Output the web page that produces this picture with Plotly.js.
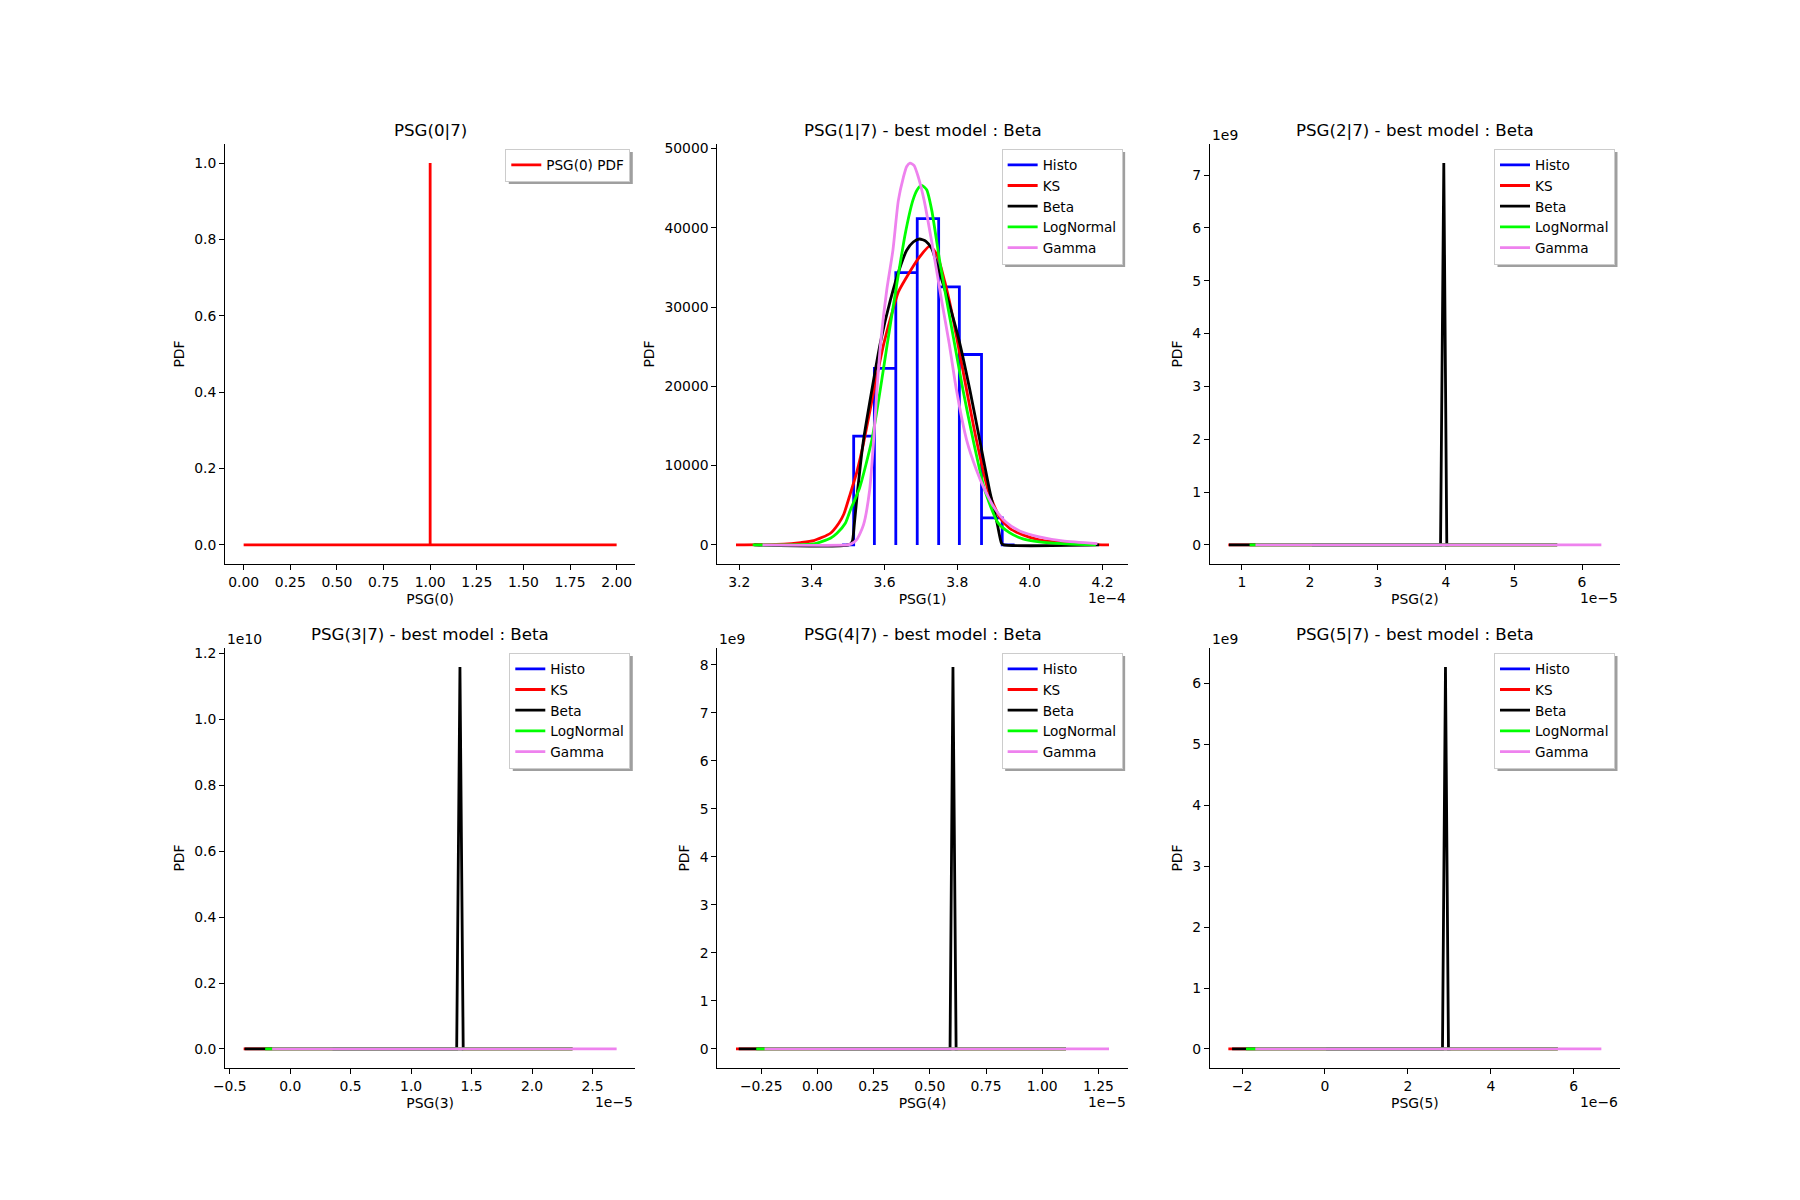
<!DOCTYPE html>
<html>
<head>
<meta charset="utf-8">
<script src="https://cdn.plot.ly/plotly-3.0.1.min.js"></script>
<style>
  html, body { margin: 0; padding: 0; background: #ffffff; }
  #chart { width: 1800px; height: 1200px; }
</style>
</head>
<body>
<div id="chart"></div>
<script>
const FONT = 'DejaVu Sans, Verdana, sans-serif';

// ---------- Series names / colours ----------
const seriesNames = ['Histo', 'KS', 'Beta', 'LogNormal', 'Gamma'];
const seriesColors = ['#0000ff', '#ff0000', '#000000', '#00ff00', '#ee82ee'];

// ---------- PSG(0|7) ----------
const psg0Title = 'PSG(0|7)';
const psg0X = [0, 1, 1, 1, 2];
const psg0Pdf = [0, 0, 1, 0, 0];
const psg0XTicks = [0, 0.25, 0.5, 0.75, 1, 1.25, 1.5, 1.75, 2];
const psg0XTickText = ['0.00', '0.25', '0.50', '0.75', '1.00', '1.25', '1.50', '1.75', '2.00'];
const psg0YTicks = [0, 0.2, 0.4, 0.6, 0.8, 1.0];
const psg0YTickText = ['0.0', '0.2', '0.4', '0.6', '0.8', '1.0'];

// ---------- PSG(1|7)  (x in units of 1e-4) ----------
const psg1XScale = 1e-4;
const psg1HistoEdges = [3.515, 3.572, 3.631, 3.690, 3.749, 3.806, 3.867, 3.924];
const psg1HistoHeights = [13730, 22250, 34340, 41140, 32540, 24010, 3400];
const psg1HistoLimits = [3.483, 3.958];
const psg1KsX = [3.191, 3.323, 3.369, 3.405, 3.451, 3.474, 3.488, 3.506, 3.524, 3.542, 3.570, 3.597, 3.620, 3.638, 3.661, 3.693, 3.725, 3.745, 3.766, 3.784, 3.800, 3.826, 3.853, 3.885, 3.917, 3.944, 3.981, 4.026, 4.118, 4.218];
const psg1KsPdf = [0, 80, 290, 550, 1470, 2730, 3900, 6510, 9240, 12800, 19310, 25190, 29180, 31900, 33790, 36100, 37700, 36520, 33160, 29600, 25820, 19520, 13220, 6930, 3480, 2100, 1260, 630, 170, 0];
const psg1BetaX = [3.241, 3.501, 3.511, 3.517, 3.526, 3.542, 3.565, 3.588, 3.616, 3.643, 3.661, 3.679, 3.696, 3.714, 3.730, 3.745, 3.775, 3.805, 3.835, 3.862, 3.889, 3.910, 3.922, 3.928, 4.191];
const psg1BetaPdf = [0, 0, 420, 2730, 6930, 13220, 19520, 25400, 30860, 35050, 37150, 38200, 38580, 38290, 37360, 35260, 30860, 25820, 19520, 13220, 6930, 2730, 210, 0, 0];
const psg1LogNormalX = [3.237, 3.369, 3.405, 3.451, 3.469, 3.492, 3.506, 3.531, 3.565, 3.588, 3.607, 3.634, 3.657, 3.678, 3.690, 3.702, 3.716, 3.730, 3.753, 3.771, 3.791, 3.816, 3.844, 3.876, 3.912, 3.944, 3.981, 4.026, 4.100, 4.182];
const psg1LogNormalPdf = [0, 40, 130, 840, 1470, 2730, 4410, 7140, 13220, 19520, 25190, 32950, 39250, 43450, 44790, 45340, 44790, 42190, 35470, 30860, 25820, 19520, 13220, 6930, 2810, 1550, 760, 380, 130, 0];
const psg1GammaX = [3.264, 3.497, 3.508, 3.524, 3.542, 3.559, 3.570, 3.579, 3.590, 3.606, 3.623, 3.638, 3.652, 3.661, 3.670, 3.681, 3.693, 3.709, 3.734, 3.757, 3.778, 3.798, 3.826, 3.853, 3.876, 3.903, 3.935, 3.972, 4.026, 4.090, 4.186];
const psg1GammaPdf = [0, 0, 130, 710, 2520, 6930, 13220, 19520, 25820, 32110, 37150, 43450, 46390, 47730, 48150, 47860, 46390, 43450, 37150, 30860, 25400, 19520, 13220, 9450, 6930, 4620, 2850, 1760, 1010, 500, 170];
const psg1XTicks = [3.2, 3.4, 3.6, 3.8, 4.0, 4.2];
const psg1XTickText = ['3.2', '3.4', '3.6', '3.8', '4.0', '4.2'];
const psg1YTicks = [0, 10000, 20000, 30000, 40000, 50000];
const psg1YTickText = ['0', '10000', '20000', '30000', '40000', '50000'];

// ---------- PSG(2|7)  (x in units of 1e-5) ----------
const psg2XScale = 1e-5;
const psg2HistoX = [2.029, 4.041];
const psg2HistoPdf = [0, 0];
const psg2KsX = [0.801, 5.635];
const psg2KsPdf = [0, 0];
const psg2BetaX = [0.810, 3.920, 3.968, 4.012, 5.635];
const psg2BetaPdf = [0, 0, 7.227e9, 0, 0];
const psg2LogNormalX = [1.113, 5.635];
const psg2LogNormalPdf = [0, 0];
const psg2GammaX = [1.200, 6.284];
const psg2GammaPdf = [0, 0];
const psg2XTicks = [1, 2, 3, 4, 5, 6];
const psg2XTickText = ['1', '2', '3', '4', '5', '6'];
const psg2YTicks = [0, 1, 2, 3, 4, 5, 6, 7];
const psg2YTickText = ['0', '1', '2', '3', '4', '5', '6', '7'];

// ---------- PSG(3|7)  (x in units of 1e-5) ----------
const psg3XScale = 1e-5;
const psg3HistoX = [0.350, 1.431];
const psg3HistoPdf = [0, 0];
const psg3KsX = [-0.385, 2.335];
const psg3KsPdf = [0, 0];
const psg3BetaX = [-0.377, 1.377, 1.404, 1.431, 2.335];
const psg3BetaPdf = [0, 0, 1.159e10, 0, 0];
const psg3LogNormalX = [-0.207, 2.335];
const psg3LogNormalPdf = [0, 0];
const psg3GammaX = [-0.149, 2.700];
const psg3GammaPdf = [0, 0];
const psg3XTicks = [-0.5, 0, 0.5, 1.0, 1.5, 2.0, 2.5];
const psg3XTickText = ['\u22120.5', '0.0', '0.5', '1.0', '1.5', '2.0', '2.5'];
const psg3YTicks = [0, 0.2, 0.4, 0.6, 0.8, 1.0, 1.2];
const psg3YTickText = ['0.0', '0.2', '0.4', '0.6', '0.8', '1.0', '1.2'];

// ---------- PSG(4|7)  (x in units of 1e-5) ----------
const psg4XScale = 1e-5;
const psg4HistoX = [0.056, 0.624];
const psg4HistoPdf = [0, 0];
const psg4KsX = [-0.362, 1.106];
const psg4KsPdf = [0, 0];
const psg4BetaX = [-0.350, 0.590, 0.603, 0.617, 1.106];
const psg4BetaPdf = [0, 0, 7.95e9, 0, 0];
const psg4LogNormalX = [-0.272, 1.106];
const psg4LogNormalPdf = [0, 0];
const psg4GammaX = [-0.235, 1.297];
const psg4GammaPdf = [0, 0];
const psg4XTicks = [-0.25, 0, 0.25, 0.5, 0.75, 1.0, 1.25];
const psg4XTickText = ['\u22120.25', '0.00', '0.25', '0.50', '0.75', '1.00', '1.25'];
const psg4YTicks = [0, 1, 2, 3, 4, 5, 6, 7, 8];
const psg4YTickText = ['0', '1', '2', '3', '4', '5', '6', '7', '8'];

// ---------- PSG(5|7)  (x in units of 1e-6) ----------
const psg5XScale = 1e-6;
const psg5HistoX = [0.027, 3.026];
const psg5HistoPdf = [0, 0];
const psg5KsX = [-2.330, 5.615];
const psg5KsPdf = [0, 0];
const psg5BetaX = [-2.240, 2.834, 2.906, 2.978, 5.615];
const psg5BetaPdf = [0, 0, 6.27e9, 0, 0];
const psg5LogNormalX = [-1.904, 5.615];
const psg5LogNormalPdf = [0, 0];
const psg5GammaX = [-1.680, 6.665];
const psg5GammaPdf = [0, 0];
const psg5XTicks = [-2, 0, 2, 4, 6];
const psg5XTickText = ['\u22122', '0', '2', '4', '6'];
const psg5YTicks = [0, 1, 2, 3, 4, 5, 6];
const psg5YTickText = ['0', '1', '2', '3', '4', '5', '6'];

// ---------- build helpers ----------
function histoPath(edges, heights, limits) {
  const xs = [limits[0]], ys = [0];
  for (let i = 0; i < heights.length; i++) {
    xs.push(edges[i], edges[i], edges[i + 1], edges[i + 1]);
    ys.push(0, heights[i], heights[i], 0);
  }
  xs.push(limits[1]); ys.push(0);
  return { x: xs, y: ys };
}
const psg1Histo = histoPath(psg1HistoEdges, psg1HistoHeights, psg1HistoLimits);

function fiveSeries(h, ks, beta, ln, gm, smooth) {
  const xs = [h, ks, beta, ln, gm];
  return xs.map((s, i) => ({ name: seriesNames[i], color: seriesColors[i], x: s[0], y: s[1], spline: smooth && i > 0 }));
}

const panels = [
  { title: psg0Title, xLabel: 'PSG(0)', xScale: 1, yScale: 1,
    xTicks: psg0XTicks, xTickText: psg0XTickText, yTicks: psg0YTicks, yTickText: psg0YTickText,
    xOffset: '', yOffset: '',
    series: [{ name: 'PSG(0) PDF', color: '#ff0000', x: psg0X, y: psg0Pdf, spline: false }] },
  { title: 'PSG(1|7) - best model : Beta', xLabel: 'PSG(1)', xScale: psg1XScale, yScale: 1,
    xTicks: psg1XTicks, xTickText: psg1XTickText, yTicks: psg1YTicks, yTickText: psg1YTickText,
    xOffset: '1e\u22124', yOffset: '',
    series: fiveSeries([psg1Histo.x, psg1Histo.y], [psg1KsX, psg1KsPdf], [psg1BetaX, psg1BetaPdf],
                       [psg1LogNormalX, psg1LogNormalPdf], [psg1GammaX, psg1GammaPdf], true) },
  { title: 'PSG(2|7) - best model : Beta', xLabel: 'PSG(2)', xScale: psg2XScale, yScale: 1e9,
    xTicks: psg2XTicks, xTickText: psg2XTickText, yTicks: psg2YTicks, yTickText: psg2YTickText,
    xOffset: '1e\u22125', yOffset: '1e9',
    series: fiveSeries([psg2HistoX, psg2HistoPdf], [psg2KsX, psg2KsPdf], [psg2BetaX, psg2BetaPdf],
                       [psg2LogNormalX, psg2LogNormalPdf], [psg2GammaX, psg2GammaPdf], false) },
  { title: 'PSG(3|7) - best model : Beta', xLabel: 'PSG(3)', xScale: psg3XScale, yScale: 1e10,
    xTicks: psg3XTicks, xTickText: psg3XTickText, yTicks: psg3YTicks, yTickText: psg3YTickText,
    xOffset: '1e\u22125', yOffset: '1e10',
    series: fiveSeries([psg3HistoX, psg3HistoPdf], [psg3KsX, psg3KsPdf], [psg3BetaX, psg3BetaPdf],
                       [psg3LogNormalX, psg3LogNormalPdf], [psg3GammaX, psg3GammaPdf], false) },
  { title: 'PSG(4|7) - best model : Beta', xLabel: 'PSG(4)', xScale: psg4XScale, yScale: 1e9,
    xTicks: psg4XTicks, xTickText: psg4XTickText, yTicks: psg4YTicks, yTickText: psg4YTickText,
    xOffset: '1e\u22125', yOffset: '1e9',
    series: fiveSeries([psg4HistoX, psg4HistoPdf], [psg4KsX, psg4KsPdf], [psg4BetaX, psg4BetaPdf],
                       [psg4LogNormalX, psg4LogNormalPdf], [psg4GammaX, psg4GammaPdf], false) },
  { title: 'PSG(5|7) - best model : Beta', xLabel: 'PSG(5)', xScale: psg5XScale, yScale: 1e9,
    xTicks: psg5XTicks, xTickText: psg5XTickText, yTicks: psg5YTicks, yTickText: psg5YTickText,
    xOffset: '1e\u22126', yOffset: '1e9',
    series: fiveSeries([psg5HistoX, psg5HistoPdf], [psg5KsX, psg5KsPdf], [psg5BetaX, psg5BetaPdf],
                       [psg5LogNormalX, psg5LogNormalPdf], [psg5GammaX, psg5GammaPdf], false) }
];

// ---------- layout geometry (matplotlib default subplot grid) ----------
const W = 1800, H = 1200;
const colDomains = [[0.125, 0.352941], [0.398529, 0.626471], [0.672059, 0.9]];
const rowDomains = [[0.53, 0.88], [0.11, 0.46]];

const axisCommon = {
  showline: true, linecolor: '#000000', linewidth: 1.1,
  ticks: 'outside', ticklen: 4.9, tickwidth: 1.1, tickcolor: '#000000',
  showgrid: false, zeroline: false, automargin: false, fixedrange: true,
  tickfont: { family: FONT, size: 13.9, color: '#000000' },
  tickmode: 'array'
};

const traces = [];
const layout = {
  width: W, height: H,
  margin: { l: 0, r: 0, t: 0, b: 0, pad: 0 },
  paper_bgcolor: '#ffffff', plot_bgcolor: '#ffffff',
  showlegend: true,
  font: { family: FONT, size: 13.9, color: '#000000' },
  annotations: []
};
const legendIds = [];

panels.forEach((p, i) => {
  const col = i % 3, row = Math.floor(i / 3);
  const sfx = i === 0 ? '' : String(i + 1);
  const xId = 'x' + sfx, yId = 'y' + sfx;
  const legendId = 'legend' + sfx;
  legendIds.push(legendId);

  let xmin = Infinity, xmax = -Infinity, ymin = Infinity, ymax = -Infinity;
  p.series.forEach(s => {
    const xs = s.x.map(v => v * p.xScale);
    xs.forEach(v => { xmin = Math.min(xmin, v); xmax = Math.max(xmax, v); });
    s.y.forEach(v => { ymin = Math.min(ymin, v); ymax = Math.max(ymax, v); });
    traces.push({
      type: 'scatter', mode: 'lines', name: s.name,
      x: xs, y: s.y, xaxis: xId, yaxis: yId, legend: legendId,
      line: { color: s.color, width: 2.8, shape: s.spline ? 'spline' : 'linear', smoothing: 0.6 },
      hoverinfo: 'skip'
    });
  });
  const xpad = 0.05 * (xmax - xmin), ypad = 0.05 * (ymax - ymin);

  layout['xaxis' + sfx] = Object.assign({}, axisCommon, {
    domain: colDomains[col], anchor: yId,
    range: [xmin - xpad, xmax + xpad],
    tickvals: p.xTicks.map(v => v * p.xScale), ticktext: p.xTickText,
    title: { text: p.xLabel, font: { family: FONT, size: 13.9, color: '#000000' }, standoff: 5 }
  });
  layout['yaxis' + sfx] = Object.assign({}, axisCommon, {
    domain: rowDomains[row], anchor: xId,
    range: [ymin - ypad, ymax + ypad],
    tickvals: p.yTicks.map(v => v * p.yScale), ticktext: p.yTickText,
    title: { text: 'PDF', font: { family: FONT, size: 13.9, color: '#000000' }, standoff: 6 }
  });

  const axRightPx = colDomains[col][1] * W;
  const axTopPx = (1 - rowDomains[row][1]) * H;
  layout[legendId] = {
    x: (axRightPx - 5) / W, y: 1 - (axTopPx + 4.5) / H,
    xanchor: 'right', yanchor: 'top',
    bgcolor: '#ffffff', bordercolor: '#cccccc', borderwidth: 1,
    font: { family: FONT, size: 13.6, color: '#000000' },
    itemwidth: 30, tracegroupgap: 0, traceorder: 'normal'
  };

  layout.annotations.push({
    xref: xId + ' domain', yref: yId + ' domain', x: 0.5, y: 1,
    xanchor: 'center', yanchor: 'middle', yshift: 13.5, showarrow: false,
    text: p.title, font: { family: FONT, size: 16.67, color: '#000000' }
  });
  if (p.yOffset) {
    layout.annotations.push({
      xref: xId + ' domain', yref: yId + ' domain', x: 0, y: 1,
      xanchor: 'left', yanchor: 'middle', yshift: 9, showarrow: false,
      text: p.yOffset, font: { family: FONT, size: 13.9, color: '#000000' }
    });
  }
  if (p.xOffset) {
    layout.annotations.push({
      xref: xId + ' domain', yref: yId + ' domain', x: 1, y: 0,
      xanchor: 'right', yanchor: 'middle', yshift: -34, showarrow: false,
      text: p.xOffset, font: { family: FONT, size: 13.9, color: '#000000' }
    });
  }
});

const gd = document.getElementById('chart');
Plotly.newPlot(gd, traces, layout, { displayModeBar: false, responsive: false }).then(() => {
  // matplotlib-style legend shadows, placed from the rendered legend boxes
  const root = gd.getBoundingClientRect();
  const shapes = [];
  legendIds.forEach(id => {
    const bg = gd.querySelector('.infolayer g.' + id + ' rect.bg');
    if (!bg) return;
    const r = bg.getBoundingClientRect();
    const l = r.left - root.left + 3, t = r.top - root.top + 3;
    const rr = r.right - root.left + 3, b = r.bottom - root.top + 3;
    shapes.push({
      type: 'rect', xref: 'paper', yref: 'paper', layer: 'above',
      x0: l / W, x1: rr / W, y0: 1 - b / H, y1: 1 - t / H,
      fillcolor: '#9f9f9f', line: { width: 0 }
    });
  });
  if (shapes.length) return Plotly.relayout(gd, { shapes: shapes });
});
</script>
</body>
</html>
